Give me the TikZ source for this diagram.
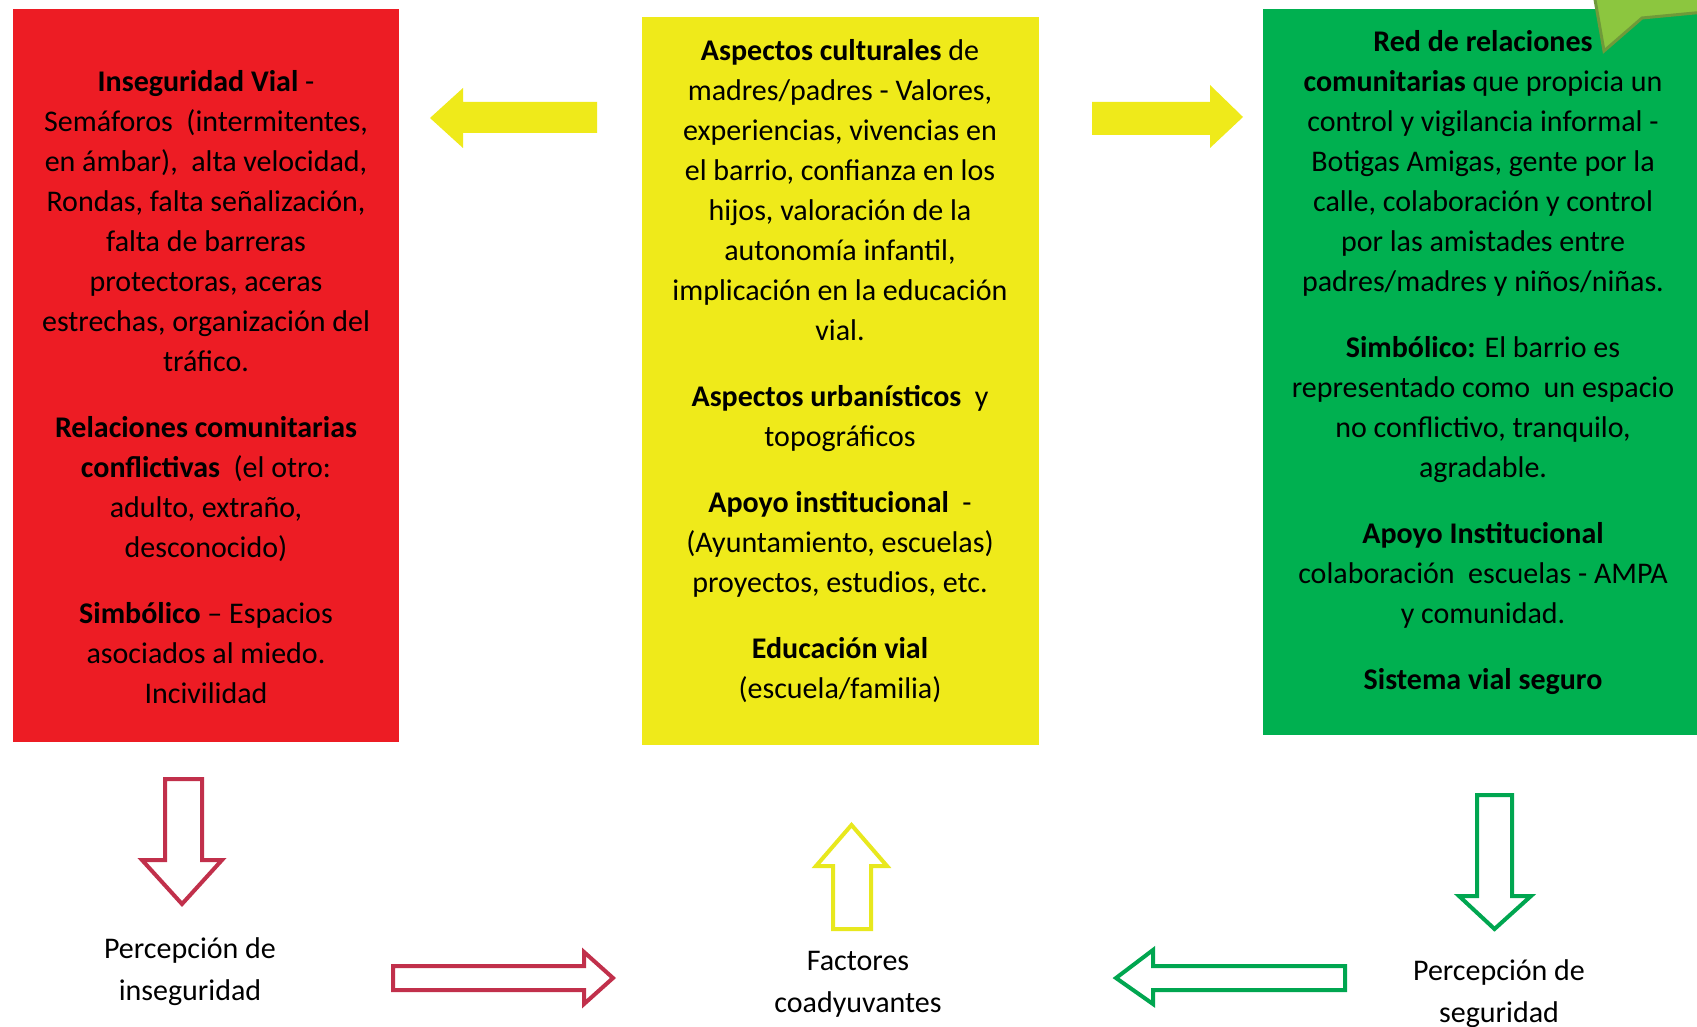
\documentclass[tikz,border=0pt]{standalone}
\usepackage{fontspec}
\setmainfont{Carlito}
\definecolor{cred}{HTML}{ED1C24}
\definecolor{cyel}{HTML}{EFEA1A}
\definecolor{cgreen}{HTML}{00B050}
\definecolor{ccall}{HTML}{8CC63F}
\definecolor{ccallb}{HTML}{6F9A3A}
\definecolor{ared}{HTML}{C1304B}
\definecolor{ayel}{HTML}{E8E81E}
\definecolor{agreen}{HTML}{00A650}
\begin{document}
\begin{tikzpicture}[x=1pt,y=-1pt,
  colbox/.style={draw=none, inner sep=0pt, outer sep=0pt},
  boxtext/.style={align=center, inner sep=0pt, font=\fontsize{30}{40}\selectfont, text=black},
  lbl/.style={align=center, inner sep=0pt, font=\fontsize{30}{42}\selectfont, text=black},
  hollow/.style={line width=4pt, line join=miter, fill=white},
  solidarrow/.style={fill=cyel, draw=none}]
\useasboundingbox (0,0) rectangle (1697,1027);
\fill[white] (0,0) rectangle (1697,1027);

% boxes
\node[colbox, fill=cred, minimum width=386pt, minimum height=733pt] (red) at (206,375.5) {};
\node[colbox, fill=cyel, minimum width=397pt, minimum height=728pt] (yel) at (840.5,381) {};
\node[colbox, fill=cgreen, minimum width=434pt, minimum height=726pt] (grn) at (1480,372) {};

% callout corner
\filldraw[fill=ccall, draw=ccallb, line width=3pt, line join=miter]
  (1594,-6) -- (1604,51) -- (1642,18) -- (1705,12) -- (1705,-6) -- cycle;

% box texts
\node[boxtext] (redtxt) at (206,387) {%
\textbf{Inseguridad Vial} -\\
Semáforos\ \ (intermitentes,\\
en ámbar),\ \ alta velocidad,\\
Rondas, falta señalización,\\
falta de barreras\\
protectoras, aceras\\
estrechas, organización del\\
tráfico.\\[26pt]
\textbf{Relaciones comunitarias}\\
\textbf{conflictivas}\ \ (el otro:\\
adulto, extraño,\\
desconocido)\\[26pt]
\textbf{Simbólico} – Espacios\\
asociados al miedo.\\
Incivilidad};

\node[boxtext] (yeltxt) at (840,371) {%
\textbf{Aspectos culturales} de\\
madres/padres - Valores,\\
experiencias, vivencias en\\
el barrio, confianza en los\\
hijos, valoración de la\\
autonomía infantil,\\
implicación en la educación\\
vial.\\[26pt]
\textbf{Aspectos urbanísticos}\ \ y\\
topográficos\\[26pt]
\textbf{Apoyo institucional}\ \ -\\
(Ayuntamiento, escuelas)\\
proyectos, estudios, etc.\\[26pt]
\textbf{Educación vial}\\
(escuela/familia)};

\node[boxtext] (grntxt) at (1483,363) {%
\textbf{Red de relaciones}\\
\textbf{comunitarias} que propicia un\\
control y vigilancia informal -\\
Botigas Amigas, gente por la\\
calle, colaboración y control\\
por las amistades entre\\
padres/madres y niños/niñas.\\[26pt]
\textbf{Simbólico:} El barrio es\\
representado como\ \ un espacio\\
no conflictivo, tranquilo,\\
agradable.\\[26pt]
\textbf{Apoyo Institucional}\\
colaboración\ \ escuelas - AMPA\\
y comunidad.\\[26pt]
\textbf{Sistema vial seguro}};

% bottom labels
\node[lbl] (pinseg) at (190,972) {Percepción de\\inseguridad};
\node[lbl] (factores) at (858,984) {Factores\\coadyuvantes};
\node[lbl] (pseg) at (1499,994) {Percepción de\\seguridad};

% solid yellow arrows
\fill[cyel] (430,118) -- (463,88) -- (463,102) -- (597,102) -- (597,133) -- (463,133) -- (463,148) -- cycle;
\fill[cyel] (1243,117) -- (1210,85) -- (1210,102) -- (1092,102) -- (1092,135) -- (1210,135) -- (1210,148) -- cycle;

% hollow arrows
\draw[hollow, draw=ared] (165,779) -- (202,779) -- (202,860) -- (222,860) -- (182,904) -- (142,860) -- (165,860) -- cycle;
\draw[hollow, draw=ared] (393,966) -- (584,966) -- (584,952) -- (613,978) -- (584,1004) -- (584,990) -- (393,990) -- cycle;
\draw[hollow, draw=ayel] (833,929) -- (833,866) -- (816,866) -- (851.5,825) -- (887,866) -- (871,866) -- (871,929) -- cycle;
\draw[hollow, draw=agreen] (1345,966) -- (1153,966) -- (1153,950) -- (1116,978) -- (1153,1004) -- (1153,990) -- (1345,990) -- cycle;
\draw[hollow, draw=agreen] (1477,795) -- (1512,795) -- (1512,896) -- (1531,896) -- (1494.5,929) -- (1459,896) -- (1477,896) -- cycle;
\end{tikzpicture}
\end{document}
